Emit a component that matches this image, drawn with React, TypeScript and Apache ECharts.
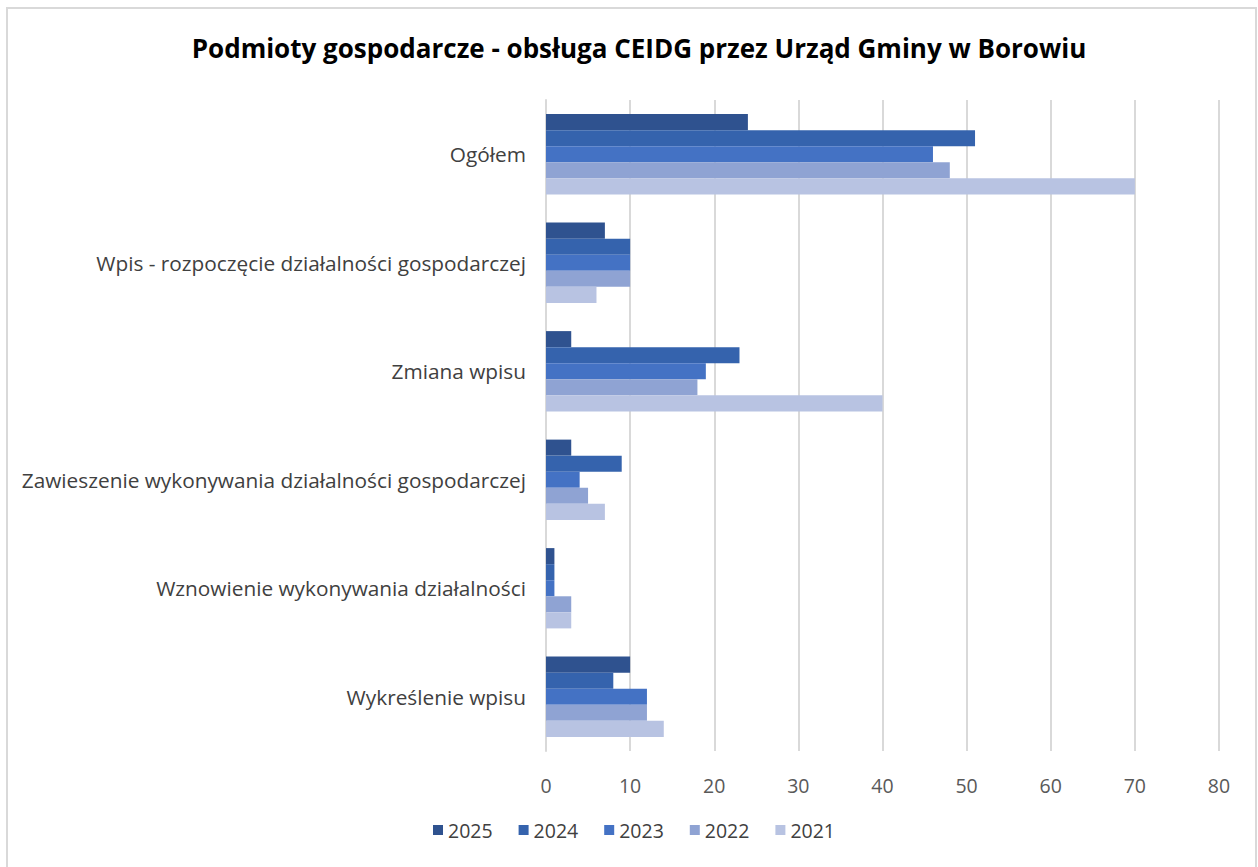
import React, { useEffect, useRef } from "react";
import * as echarts from "echarts";

const categories = [
  "Ogółem",
  "Wpis - rozpoczęcie działalności gospodarczej",
  "Zmiana wpisu",
  "Zawieszenie wykonywania działalności gospodarczej",
  "Wznowienie wykonywania działalności",
  "Wykreślenie wpisu",
];
const years = ["2025", "2024", "2023", "2022", "2021"];
const v2025 = [24, 7, 3, 3, 1, 10];
const v2024 = [51, 10, 23, 9, 1, 8];
const v2023 = [46, 10, 19, 4, 1, 12];
const v2022 = [48, 10, 18, 5, 3, 12];
const v2021 = [70, 6, 40, 7, 3, 14];
const values = [v2025, v2024, v2023, v2022, v2021];
const colors = ["#2F528F", "#3563AD", "#4472C4", "#8FA3D3", "#B8C3E2"];
const xTicks = [0, 10, 20, 30, 40, 50, 60, 70, 80];

const FONT = "'Open Sans', sans-serif";

export default function App() {
  const ref = useRef<HTMLDivElement>(null);
  useEffect(() => {
    if (!ref.current) return;
    const chart = echarts.init(ref.current, undefined, { renderer: "svg" });
    chart.setOption({
      animation: false,
      backgroundColor: "#ffffff",
      title: {
        text: "Podmioty gospodarcze - obsługa CEIDG przez Urząd Gminy w Borowiu",
        left: 634,
        textAlign: "center",
        top: 30,
        textStyle: { fontFamily: FONT, fontSize: 26, fontWeight: "bold", color: "#000000" },
      },
      graphic: [
        {
          type: "rect",
          shape: { x: 7, y: 8, width: 1249, height: 870 },
          style: { fill: "none", stroke: "#d9d9d9", lineWidth: 2 },
          silent: true,
        },
      ],
      legend: {
        bottom: 22,
        left: 428,
        itemWidth: 10,
        itemHeight: 10,
        itemGap: 26,
        icon: "rect",
        textStyle: { fontFamily: FONT, fontSize: 19.5, color: "#404040" },
        data: years,
      },
      grid: { left: 546, right: 39, top: 100, bottom: 116, containLabel: false },
      xAxis: {
        type: "value",
        min: xTicks[0],
        max: xTicks[xTicks.length - 1],
        interval: 10,
        axisLine: { show: false },
        axisTick: { show: false },
        splitLine: { show: true, lineStyle: { color: "#d9d9d9", width: 2 } },
        axisLabel: { fontFamily: FONT, fontSize: 19.5, color: "#595959", margin: 24 },
      },
      yAxis: {
        type: "category",
        data: categories,
        inverse: true,
        axisLine: { show: true, lineStyle: { color: "#d9d9d9", width: 2 } },
        axisTick: { show: false },
        axisLabel: { fontFamily: FONT, fontSize: 20.8, color: "#404040", margin: 20 },
      },
      series: years.map((y, i) => ({
        name: y,
        type: "bar",
        data: values[i],
        itemStyle: { color: colors[i] },
        barGap: "0%",
        barCategoryGap: "26%",
      })),
    });
    return () => chart.dispose();
  }, []);
  return (
    <div
      ref={ref}
      style={{ position: "absolute", left: 0, top: 0, width: 1258, height: 867 }}
    />
  );
}
